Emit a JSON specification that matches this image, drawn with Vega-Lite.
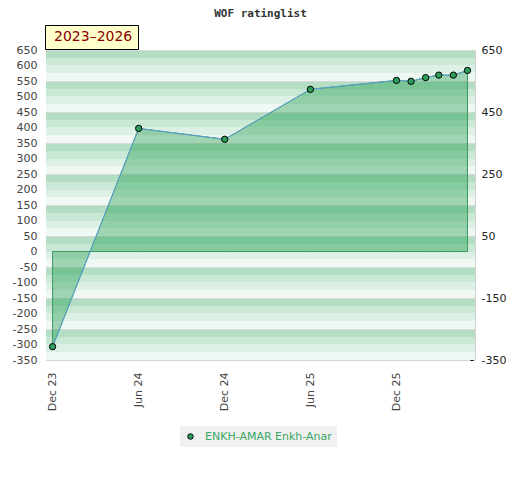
{
  "$schema": "https://vega.github.io/schema/vega-lite/v6.json",
  "width": 429,
  "height": 310,
  "autosize": "none",
  "padding": {"left": 46, "top": 50, "right": 45, "bottom": 120},
  "background": "white",
  "title": {"text": "WOF ratinglist", "font": "DejaVu Sans Mono", "fontWeight": "bold", "fontSize": 11, "color": "#333333", "frame": "group", "anchor": "middle", "offset": 6},
  "config": {
    "view": {"stroke": "#d2d2d2", "strokeWidth": 1},
    "axis": {"labelFont": "DejaVu Sans", "labelFontSize": 11, "title": null}
  },
  "datasets": {
    "bands": [
      {"top": 650, "bottom": 550}, {"top": 550, "bottom": 450}, {"top": 450, "bottom": 350},
      {"top": 350, "bottom": 250}, {"top": 250, "bottom": 150}, {"top": 150, "bottom": 50},
      {"top": 50, "bottom": -50}, {"top": -50, "bottom": -150}, {"top": -150, "bottom": -250},
      {"top": -250, "bottom": -350}
    ],
    "ratings": [
      {"date": "2023-12-01", "rating": -307, "player": "ENKH-AMAR Enkh-Anar", "period": "2023–2026"},
      {"date": "2024-06-01", "rating": 397, "player": "ENKH-AMAR Enkh-Anar", "period": "2023–2026"},
      {"date": "2024-12-01", "rating": 362, "player": "ENKH-AMAR Enkh-Anar", "period": "2023–2026"},
      {"date": "2025-06-01", "rating": 523, "player": "ENKH-AMAR Enkh-Anar", "period": "2023–2026"},
      {"date": "2025-12-01", "rating": 552, "player": "ENKH-AMAR Enkh-Anar", "period": "2023–2026"},
      {"date": "2026-01-01", "rating": 549, "player": "ENKH-AMAR Enkh-Anar", "period": "2023–2026"},
      {"date": "2026-02-01", "rating": 561, "player": "ENKH-AMAR Enkh-Anar", "period": "2023–2026"},
      {"date": "2026-03-01", "rating": 569, "player": "ENKH-AMAR Enkh-Anar", "period": "2023–2026"},
      {"date": "2026-04-01", "rating": 569, "player": "ENKH-AMAR Enkh-Anar", "period": "2023–2026"},
      {"date": "2026-05-01", "rating": 584, "player": "ENKH-AMAR Enkh-Anar", "period": "2023–2026"}
    ]
  },
  "resolve": {"axis": {"y": "independent"}},
  "layer": [
    {
      "data": {"name": "bands"},
      "mark": {
        "type": "rect",
        "fill": {
          "gradient": "linear", "x1": 0, "y1": 0, "x2": 0, "y2": 1,
          "stops": [
            {"offset": 0, "color": "#d9d9d9"}, {"offset": 0.03, "color": "#d9d9d9"},
            {"offset": 0.03, "color": "#b3dec4"}, {"offset": 0.25, "color": "#b3dec4"},
            {"offset": 0.25, "color": "#c9e8d5"}, {"offset": 0.5, "color": "#c9e8d5"},
            {"offset": 0.5, "color": "#ddf0e5"}, {"offset": 0.75, "color": "#ddf0e5"},
            {"offset": 0.75, "color": "#f0f8f3"}, {"offset": 1, "color": "#f0f8f3"}
          ]
        }
      },
      "encoding": {
        "y": {
          "field": "top", "type": "quantitative",
          "scale": {"domain": [-350, 650], "nice": false, "zero": false},
          "axis": {"orient": "left", "values": [650, 600, 550, 500, 450, 400, 350, 300, 250, 200, 150, 100, 50, 0, -50, -100, -150, -200, -250, -300, -350], "labelExpr": "replace(datum.label, '−', '-')", "ticks": false, "domain": false, "grid": false, "labelPadding": 9, "labelColor": "#444444"}
        },
        "y2": {"field": "bottom"}
      }
    },
    {
      "data": {"name": "ratings"},
      "mark": {"type": "area", "fill": "#239e4f", "fillOpacity": 0.4, "strokeWidth": 1},
      "encoding": {
        "x": {
          "field": "date", "type": "temporal",
          "scale": {"type": "utc", "domain": [{"year": 2023, "month": 11, "date": 17, "utc": true}, {"year": 2026, "month": 5, "date": 17, "utc": true}]},
          "axis": {"values": [{"year": 2023, "month": 12, "date": 1, "utc": true}, {"year": 2024, "month": 6, "date": 1, "utc": true}, {"year": 2024, "month": 12, "date": 1, "utc": true}, {"year": 2025, "month": 6, "date": 1, "utc": true}, {"year": 2025, "month": 12, "date": 1, "utc": true}], "format": "%b %y", "labelAngle": -90, "labelAlign": "right", "labelBaseline": "middle", "ticks": false, "domain": false, "grid": false, "labelPadding": 12, "labelColor": "#444444"}
        },
        "y": {
          "field": "rating", "type": "quantitative",
          "axis": {"orient": "right", "values": [650, 550, 450, 350, 250, 150, 50, -50, -150, -250, -350], "labelExpr": "(datum.value + 350) % 200 == 0 ? replace(datum.label, '−', '-') : ''", "offset": -5, "tickSize": 3, "tickColor": "#000000", "domain": false, "grid": false, "labelPadding": 8, "labelColor": "#222222"}
        },
        "y2": {"datum": 0},
        "stroke": {
          "field": "period", "type": "nominal",
          "scale": {"range": ["#3a9a5a"]},
          "legend": {"orient": "none", "legendX": -1, "legendY": -25, "title": null, "fillColor": "#ffffcc", "strokeColor": "#000000", "padding": 5, "symbolSize": 0, "symbolOpacity": 0, "symbolStrokeWidth": 0, "labelOffset": -10, "labelColor": "#8b0000", "labelFont": "DejaVu Sans", "labelFontSize": 14}
        }
      }
    },
    {
      "data": {"name": "ratings"},
      "mark": {"type": "line", "color": "#5b9fd6", "strokeWidth": 1},
      "encoding": {
        "x": {"field": "date", "type": "temporal"},
        "y": {"field": "rating", "type": "quantitative", "axis": null}
      }
    },
    {
      "data": {"name": "ratings"},
      "mark": {"type": "point", "shape": "circle", "filled": true, "size": 40, "stroke": "#000000", "strokeWidth": 1, "opacity": 1},
      "encoding": {
        "x": {"field": "date", "type": "temporal"},
        "y": {"field": "rating", "type": "quantitative", "axis": null},
        "fill": {
          "field": "player", "type": "nominal",
          "scale": {"range": ["#2e9e5c"]},
          "legend": {"orient": "none", "legendX": 134, "legendY": 376, "title": null, "fillColor": "#f0f0f0", "padding": 5, "symbolType": "circle", "symbolSize": 30, "symbolStrokeColor": "#000000", "symbolStrokeWidth": 1, "labelOffset": 9, "labelColor": "#3aa864", "labelFont": "DejaVu Sans", "labelFontSize": 11}
        }
      }
    }
  ]
}
